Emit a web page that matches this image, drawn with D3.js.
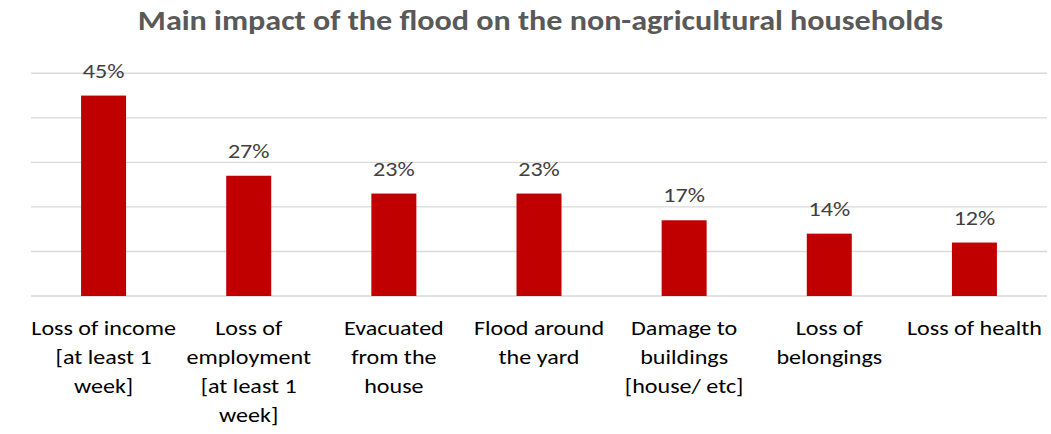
<!DOCTYPE html>
<html>
<head>
<meta charset="utf-8">
<script src="https://cdn.jsdelivr.net/npm/d3@7"></script>
<style>
  html, body { margin: 0; padding: 0; background: #fff; }
  svg { display: block; }
  text { font-family: Carlito, Calibri, Lato, sans-serif; }
</style>
</head>
<body>
<svg id="chart" width="1051" height="434"></svg>
<script>
// Share of non-agricultural households reporting each flood impact (%)
const categories = [
  "Loss of income [at least 1 week]",
  "Loss of employment [at least 1 week]",
  "Evacuated from the house",
  "Flood around the yard",
  "Damage to buildings [house/ etc]",
  "Loss of belongings",
  "Loss of health"
];
const categoryLines = [
  ["Loss of income", "[at least 1", "week]"],
  ["Loss of", "employment", "[at least 1", "week]"],
  ["Evacuated", "from the", "house"],
  ["Flood around", "the yard"],
  ["Damage to", "buildings", "[house/ etc]"],
  ["Loss of", "belongings"],
  ["Loss of health"]
];
const values = [45, 27, 23, 23, 17, 14, 12];
const gridTicks = [0, 10, 20, 30, 40, 50];
const title = "Main impact of the flood on the non-agricultural households";

const svg = d3.select("#chart");
const plot = { left: 31, right: 1047, top: 73.3, bottom: 296 };
const stretch = 1.147; // horizontal text stretch of the exported figure

const x = d3.scaleBand()
  .domain(categories)
  .range([plot.left, plot.right])
  .paddingInner(0.69)
  .paddingOuter(0.345);

const y = d3.scaleLinear()
  .domain([0, 50])
  .range([plot.bottom, plot.top]);

const cx = i => x(categories[i]) + x.bandwidth() / 2;

// Horizontal gridlines
svg.append("g")
  .selectAll("line")
  .data(gridTicks)
  .join("line")
  .attr("x1", plot.left)
  .attr("x2", plot.right)
  .attr("y1", d => y(d))
  .attr("y2", d => y(d))
  .attr("stroke", "#d9d9d9")
  .attr("stroke-width", 1.4);

// Bars
svg.append("g")
  .selectAll("rect")
  .data(values)
  .join("rect")
  .attr("x", (d, i) => x(categories[i]))
  .attr("y", d => y(d))
  .attr("width", x.bandwidth())
  .attr("height", d => y(0) - y(d))
  .attr("fill", "#c00000");

// Value labels above the bars
svg.append("g")
  .selectAll("text")
  .data(values)
  .join("text")
  .attr("transform", (d, i) => `translate(${cx(i)},${y(d) - 18}) scale(${stretch},1)`)
  .attr("text-anchor", "middle")
  .attr("fill", "#404040")
  .style("font-size", "21px")
  .text(d => d + "%");

// Category labels, wrapped onto several lines
const cat = svg.append("g")
  .selectAll("text")
  .data(categoryLines)
  .join("text")
  .attr("transform", (d, i) => `translate(${cx(i)},335) scale(${stretch},1)`)
  .attr("text-anchor", "middle")
  .attr("fill", "#000")
  .style("font-size", "21px");
cat.selectAll("tspan")
  .data(d => d)
  .join("tspan")
  .attr("x", 0)
  .attr("dy", (d, j) => j === 0 ? 0 : 29)
  .text(d => d);

// Title
svg.append("text")
  .attr("transform", `translate(540.5,30) scale(${stretch},1)`)
  .attr("text-anchor", "middle")
  .attr("fill", "#595959")
  .style("font-size", "28px")
  .style("font-weight", "bold")
  .text(title);
</script>
</body>
</html>
